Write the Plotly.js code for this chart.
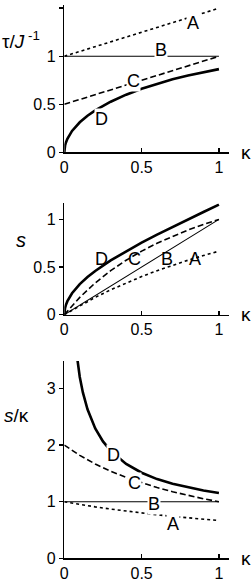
<!DOCTYPE html>
<html>
<head>
<meta charset="utf-8">
<script src="https://cdn.plot.ly/plotly-3.0.1.min.js"></script>
<style>html,body{margin:0;padding:0;background:#fff;}#chart{width:252px;height:585px;}</style>
</head>
<body>
<div id="chart"></div>
<script>
// κ values
const kLin = [0, 1];
const kCurve = [0, 0.001, 0.002, 0.005, 0.01, 0.02, 0.05, 0.1, 0.15, 0.2, 0.3, 0.4, 0.5, 0.6, 0.7, 0.8, 0.9, 1.0];
const kMid = [0, 0.1, 0.2, 0.3, 0.4, 0.5, 0.6, 0.7, 0.8, 0.9, 1.0];
const kD3 = [0.07, 0.08, 0.09, 0.1, 0.12, 0.15, 0.2, 0.25, 0.3, 0.4, 0.5, 0.6, 0.7, 0.8, 0.9, 1.0];

// Panel 1: τ/J^-1
const tauA = [1, 1.5];
const tauB = [1, 1];
const tauC = [0.5, 1];
const tauD = [0, 0.0316, 0.0447, 0.0707, 0.0999, 0.1411, 0.2222, 0.3122, 0.380, 0.4359, 0.5268, 0.6, 0.6614, 0.7141, 0.7599, 0.8, 0.8352, 0.866];

// Panel 2: s
const sA = [0, 0.0952, 0.1818, 0.2609, 0.3333, 0.4, 0.4615, 0.5185, 0.5714, 0.6207, 0.6667];
const sB = [0, 1];
const sC = [0, 0.1818, 0.3333, 0.4615, 0.5714, 0.6667, 0.75, 0.8235, 0.8889, 0.9474, 1.0];
const sD = [0, 0.0316, 0.0447, 0.0707, 0.1001, 0.1418, 0.2250, 0.3203, 0.3948, 0.4588, 0.5695, 0.6667, 0.7559, 0.8402, 0.9211, 1.0, 1.0776, 1.1547];

// Panel 3: s/κ
const rA = [1, 0.952, 0.909, 0.870, 0.833, 0.8, 0.769, 0.741, 0.714, 0.690, 0.667];
const rB = [1, 1];
const rC = [2, 1.818, 1.667, 1.538, 1.429, 1.333, 1.25, 1.176, 1.111, 1.053, 1.0];
const rD = [3.813, 3.571, 3.371, 3.203, 2.931, 2.632, 2.294, 2.066, 1.898, 1.667, 1.512, 1.400, 1.316, 1.25, 1.197, 1.155];

const labels = ['A', 'B', 'C', 'D'];
const lab1 = {x: [0.83, 0.625, 0.446, 0.242], y: [1.35, 1.07, 0.746, 0.344]};
const lab2 = {x: [0.845, 0.662, 0.457, 0.242], y: [0.584, 0.584, 0.584, 0.584]};
const lab3 = {x: [0.70, 0.582, 0.457, 0.317], y: [0.60, 0.96, 1.325, 1.825]};

const yTicks1 = [0, 0.5, 1, 1.5];
const yTicks2 = [0, 0.5, 1];
const yTicks3 = [0, 1, 2, 3];
const xTicks = [0, 0.5, 1];

const FONT = 'Liberation Sans, Arial, sans-serif';
const sty = {
  A: {color: 'black', width: 1.6, dash: 'dot'},
  B: {color: 'black', width: 1.1},
  C: {color: 'black', width: 1.6, dash: '6px,3px'},
  D: {color: 'black', width: 2.6}
};
function tr(x, y, k, xa, ya) {
  return {x: x, y: y, mode: 'lines', line: sty[k], xaxis: xa, yaxis: ya, hoverinfo: 'skip', showlegend: false};
}
const data = [
  tr(kLin, tauA, 'A', 'x', 'y'), tr(kLin, tauB, 'B', 'x', 'y'), tr(kLin, tauC, 'C', 'x', 'y'), tr(kCurve, tauD, 'D', 'x', 'y'),
  tr(kMid, sA, 'A', 'x2', 'y2'), tr(kLin, sB, 'B', 'x2', 'y2'), tr(kMid, sC, 'C', 'x2', 'y2'), tr(kCurve, sD, 'D', 'x2', 'y2'),
  tr(kMid, rA, 'A', 'x3', 'y3'), tr(kLin, rB, 'B', 'x3', 'y3'), tr(kMid, rC, 'C', 'x3', 'y3'), tr(kD3, rD, 'D', 'x3', 'y3')
];

const xDom = [0.2552, 0.9099];
function xa(anchor) {
  return {domain: xDom, range: [0, 1.067], anchor: anchor, showline: true, linecolor: 'black', linewidth: 1.5,
    ticks: 'inside', ticklen: 4, tickwidth: 1.5, tickcolor: 'black', tickvals: xTicks, ticktext: xTicks.map(String),
    showgrid: false, zeroline: false, fixedrange: true, tickfont: {family: FONT, size: 16, color: 'black'}};
}
function ya(anchor, dom, range, tv) {
  return {domain: dom, range: range, anchor: anchor, showline: true, linecolor: 'black', linewidth: 1.5,
    ticks: 'outside', ticklen: 4, tickwidth: 1.5, tickcolor: 'black', tickvals: tv, ticktext: tv.map(String),
    showgrid: false, zeroline: false, fixedrange: true, tickfont: {family: FONT, size: 16, color: 'black'}};
}

const annotations = [];
function addLabels(lab, xr, yr, bg) {
  labels.forEach((t, i) => {
    annotations.push({x: lab.x[i], y: lab.y[i], xref: xr, yref: yr, text: t, showarrow: false,
      font: {family: FONT, size: 18, color: 'black'}, bgcolor: bg ? 'white' : 'rgba(0,0,0,0)', borderpad: 0,
      xanchor: 'center', yanchor: 'middle'});
  });
}
addLabels(lab1, 'x', 'y', true);
addLabels(lab2, 'x2', 'y2', false);
addLabels(lab3, 'x3', 'y3', true);
['y', 'y2', 'y3'].forEach(yr => {
  annotations.push({x: 246 / 252, y: 0, xref: 'paper', yref: yr, text: 'κ', showarrow: false,
    font: {family: FONT, size: 19, color: 'black'}, xanchor: 'center', yanchor: 'middle'});
});
annotations.push({x: 0, y: 0.9316, xref: 'paper', yref: 'paper', text: 'τ/<i>J</i><sup> -1</sup>', showarrow: false,
  font: {family: FONT, size: 19, color: 'black'}, xanchor: 'left', yanchor: 'middle'});
annotations.push({x: 21 / 252, y: 0.5897, xref: 'paper', yref: 'paper', text: '<i>s</i>', showarrow: false,
  font: {family: FONT, size: 20, color: 'black'}, xanchor: 'center', yanchor: 'middle'});
annotations.push({x: 2 / 252, y: 0.2889, xref: 'paper', yref: 'paper', text: '<i>s</i>/κ', showarrow: false,
  font: {family: FONT, size: 19, color: 'black'}, xanchor: 'left', yanchor: 'middle'});

const layout = {
  width: 252, height: 585, margin: {l: 0, r: 0, t: 0, b: 0},
  paper_bgcolor: 'white', plot_bgcolor: 'white', showlegend: false,
  font: {family: FONT, color: 'black'},
  xaxis: xa('y'), yaxis: ya('x', [0.7397, 0.9915], [0, 1.534], yTicks1),
  xaxis2: xa('y2'), yaxis2: ya('x2', [0.4621, 0.6525], [0, 1.169], yTicks2),
  xaxis3: xa('y3'), yaxis3: ya('x3', [0.0456, 0.3829], [0, 3.486], yTicks3),
  annotations: annotations
};
Plotly.newPlot('chart', data, layout, {displayModeBar: false, staticPlot: true});
</script>
</body>
</html>
